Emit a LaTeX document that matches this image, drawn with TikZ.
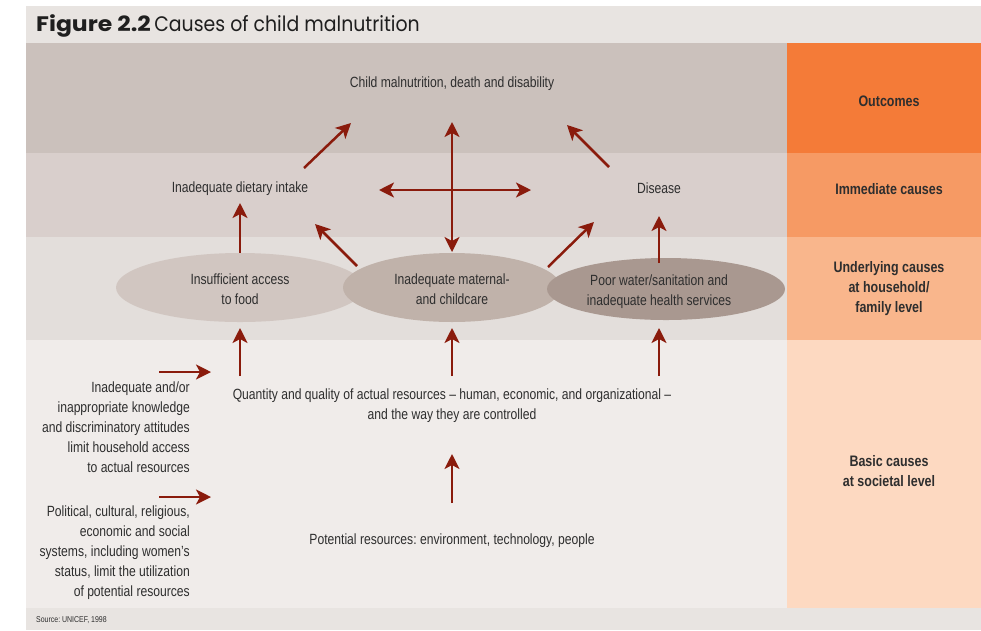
\documentclass[tikz,border=0pt]{standalone}
\usepackage{fontspec}
\setmainfont{Liberation Sans}[FakeStretch=0.82]
\newfontfamily\titlefont{Poppins}[FakeStretch=0.9]
\newfontfamily\titlebf{Poppins}[FakeStretch=1.12]
\usetikzlibrary{arrows.meta,shapes.geometric}
\frenchspacing
\definecolor{paneg}{HTML}{E8E4E1}
\definecolor{bandA}{HTML}{CBC1BC}
\definecolor{bandB}{HTML}{D9CFCC}
\definecolor{bandC}{HTML}{E3DEDB}
\definecolor{bandD}{HTML}{F0ECEA}
\definecolor{orA}{HTML}{F47B38}
\definecolor{orB}{HTML}{F69A64}
\definecolor{orC}{HTML}{F9B68C}
\definecolor{orD}{HTML}{FDD9C1}
\definecolor{ellA}{HTML}{D1C6C1}
\definecolor{ellB}{HTML}{C0B2AA}
\definecolor{ellC}{HTML}{A99890}
\definecolor{arrred}{HTML}{8A1B0C}
\definecolor{txt}{HTML}{2E2E2E}
\tikzset{
  arr/.style={draw=arrred, line width=2.5pt, -{Stealth[length=15pt,width=15pt,inset=4pt]}},
  dblarr/.style={draw=arrred, line width=2.5pt, {Stealth[length=15pt,width=15pt,inset=4pt]}-{Stealth[length=15pt,width=15pt,inset=4pt]}},
  lbl/.style={text=txt, font=\fontsize{14.8}{20}\selectfont, align=center, inner sep=0pt, yshift=-1.5pt},
  lblr/.style={text=txt, font=\fontsize{14.8}{20}\selectfont, align=right, inner sep=0pt, yshift=-1pt},
  side/.style={text=txt, font=\bfseries\fontsize{15.2}{20}\selectfont, align=center, inner sep=0pt, yshift=-1pt},
  ell/.style={ellipse, inner sep=0pt, draw=none}
}
\begin{document}
\begin{tikzpicture}[x=1pt,y=-1pt]
\useasboundingbox (0,0) rectangle (981,630);
\fill[white] (0,0) rectangle (981,630);
% panel
\fill[paneg] (26,6) rectangle (981,43);
\fill[bandA] (26,43) rectangle (787,153);
\fill[bandB] (26,153) rectangle (787,237);
\fill[bandC] (26,237) rectangle (787,340);
\fill[bandD] (26,340) rectangle (787,608);
\fill[orA] (787,43) rectangle (981,153);
\fill[orB] (787,153) rectangle (981,237);
\fill[orC] (787,237) rectangle (981,340);
\fill[orD] (787,340) rectangle (981,608);
\fill[paneg] (26,608) rectangle (981,630);
% title
\node[anchor=base west, inner sep=0pt, text=black!88, font=\titlefont\fontsize{21}{24}\selectfont] (title) at (36,31.5) {{\titlebf\bfseries Figure 2.2}\,Causes of child malnutrition};
\node[anchor=west, inner sep=0pt, text=txt, font=\fontsize{8.5}{9}\selectfont] (src) at (36,620) {Source: UNICEF, 1998};
% side labels
\node[side] (sOut) at (889,100) {Outcomes};
\node[side] (sImm) at (889,188) {Immediate causes};
\node[side] (sUnd) at (889,288) {Underlying causes\\at household/\\family level};
\node[side] (sBas) at (889,470) {Basic causes\\at societal level};
% ellipses
\node[ell, fill=ellA, minimum width=248pt, minimum height=69pt] (e1) at (240,287.5) {};
\node[ell, fill=ellB, minimum width=218pt, minimum height=69pt] (e2) at (452,287.5) {};
\node[ell, fill=ellC, minimum width=238pt, minimum height=62pt] (e3) at (666,289) {};
\node[lbl] (t1) at (240,288) {Insufficient access\\to food};
\node[lbl] (t2) at (452,288) {Inadequate maternal-\\and childcare};
\node[lbl] (t3) at (659,290) {Poor water/sanitation and\\inadequate health services};
% texts
\node[lbl] (out) at (452,82) {Child malnutrition, death and disability};
\node[lbl] (diet) at (240,187) {Inadequate dietary intake};
\node[lbl] (dis) at (659,187) {Disease};
\node[lbl] (qty) at (452,404) {Quantity and quality of actual resources -- human, economic, and organizational --\\and the way they are controlled};
\node[lbl] (pot) at (452,539) {Potential resources: environment, technology, people};
\node[lblr, anchor=east] (know) at (190,426) {Inadequate and/or\\inappropriate knowledge\\and discriminatory attitudes\\limit household access\\to actual resources};
\node[lblr, anchor=east] (pol) at (190,552) {Political, cultural, religious,\\economic and social\\systems, including women's\\status, limit the utilization\\of potential resources};
% arrow coordinates
\coordinate (dietTip) at (240,203);
\coordinate (e2ulS) at (357,266);
\coordinate (e2ulT) at (315,224);
\coordinate (e2urS) at (548,267);
\coordinate (e2urT) at (594,222);
\coordinate (e3S) at (659,263);
\coordinate (disTip) at (659,216);
\coordinate (vTop) at (452,122);
\coordinate (vBot) at (452,252);
\coordinate (hL) at (379,190);
\coordinate (hR) at (531,190);
\coordinate (dietS) at (304,168);
\coordinate (outL) at (351,123);
\coordinate (disS) at (609,167);
\coordinate (outR) at (567,125);
\coordinate (q1) at (240,376);
\coordinate (q1t) at (240,328);
\coordinate (q2) at (452,376);
\coordinate (q2t) at (452,328);
\coordinate (q3) at (659,376);
\coordinate (q3t) at (659,328);
\coordinate (pS) at (452,503);
\coordinate (pT) at (452,454);
\coordinate (k1S) at (159,372);
\coordinate (k1T) at (211,372);
\coordinate (k2S) at (159,497);
\coordinate (k2T) at (211,497);
% arrows
\draw[arr] (e1.north) -- (dietTip);
\draw[arr] (e2ulS) -- (e2ulT);
\draw[arr] (e2urS) -- (e2urT);
\draw[arr] (e3S) -- (disTip);
\draw[dblarr] (vTop) -- (vBot);
\draw[dblarr] (hL) -- (hR);
\draw[arr] (dietS) -- (outL);
\draw[arr] (disS) -- (outR);
\draw[arr] (q1) -- (q1t);
\draw[arr] (q2) -- (q2t);
\draw[arr] (q3) -- (q3t);
\draw[arr] (pS) -- (pT);
\draw[arr] (k1S) -- (k1T);
\draw[arr] (k2S) -- (k2T);
\end{tikzpicture}
\end{document}
